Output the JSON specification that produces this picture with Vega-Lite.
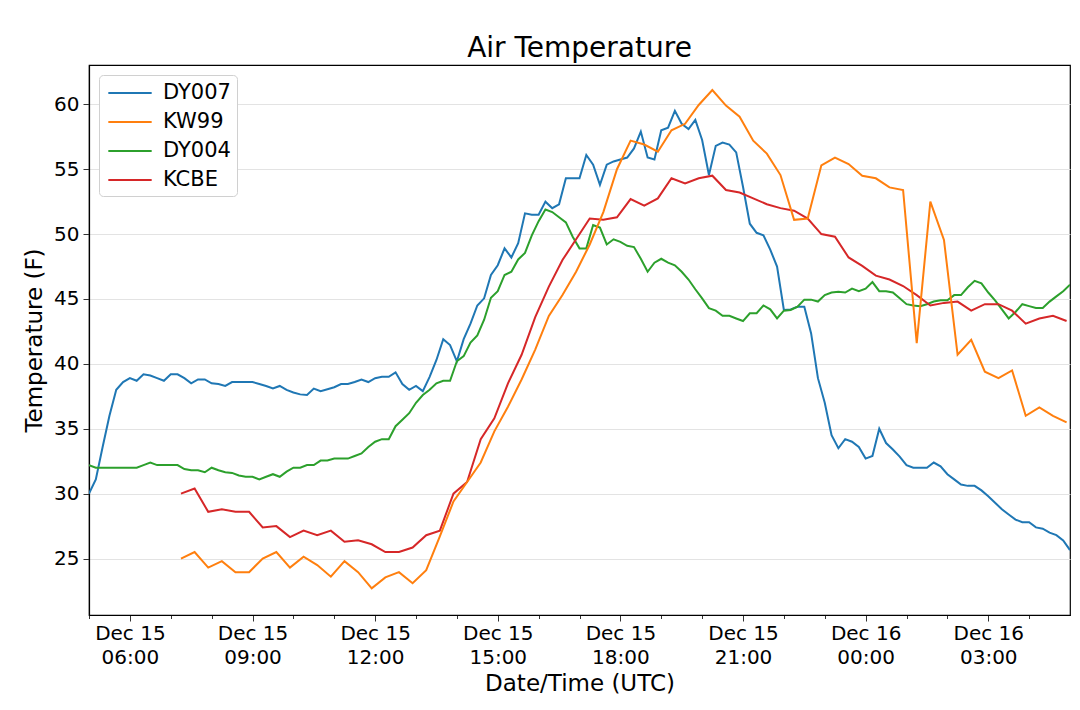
{
  "$schema": "https://vega.github.io/schema/vega-lite/v6.json",
  "description": "Air temperature at four stations, Dec 15-16",
  "width": 981,
  "height": 550,
  "autosize": {"type": "none"},
  "padding": {"left": 89, "top": 65, "right": 10, "bottom": 95},
  "background": "white",
  "config": {
    "font": "DejaVu Sans",
    "view": {"stroke": "black", "strokeWidth": 1.2},
    "axis": {"labelColor": "black", "titleColor": "black", "titleFontWeight": "normal"}
  },
  "title": {"text": "Air Temperature", "fontSize": 28, "fontWeight": "normal", "color": "black", "anchor": "middle", "offset": 2},
  "data": {
    "values": [
      {"station": "DY007", "time": "2017-12-15T05:00:00Z", "temp": 30.0},
      {"station": "DY007", "time": "2017-12-15T05:10:00Z", "temp": 31.1},
      {"station": "DY007", "time": "2017-12-15T05:20:00Z", "temp": 33.6},
      {"station": "DY007", "time": "2017-12-15T05:30:00Z", "temp": 36.0},
      {"station": "DY007", "time": "2017-12-15T05:40:00Z", "temp": 38.0},
      {"station": "DY007", "time": "2017-12-15T05:50:00Z", "temp": 38.6},
      {"station": "DY007", "time": "2017-12-15T06:00:00Z", "temp": 38.9},
      {"station": "DY007", "time": "2017-12-15T06:10:00Z", "temp": 38.7},
      {"station": "DY007", "time": "2017-12-15T06:20:00Z", "temp": 39.2},
      {"station": "DY007", "time": "2017-12-15T06:30:00Z", "temp": 39.1},
      {"station": "DY007", "time": "2017-12-15T06:40:00Z", "temp": 38.9},
      {"station": "DY007", "time": "2017-12-15T06:50:00Z", "temp": 38.7},
      {"station": "DY007", "time": "2017-12-15T07:00:00Z", "temp": 39.2},
      {"station": "DY007", "time": "2017-12-15T07:10:00Z", "temp": 39.2},
      {"station": "DY007", "time": "2017-12-15T07:20:00Z", "temp": 38.9},
      {"station": "DY007", "time": "2017-12-15T07:30:00Z", "temp": 38.5},
      {"station": "DY007", "time": "2017-12-15T07:40:00Z", "temp": 38.8},
      {"station": "DY007", "time": "2017-12-15T07:50:00Z", "temp": 38.8},
      {"station": "DY007", "time": "2017-12-15T08:00:00Z", "temp": 38.5},
      {"station": "DY007", "time": "2017-12-15T08:10:00Z", "temp": 38.45},
      {"station": "DY007", "time": "2017-12-15T08:20:00Z", "temp": 38.3},
      {"station": "DY007", "time": "2017-12-15T08:30:00Z", "temp": 38.6},
      {"station": "DY007", "time": "2017-12-15T08:40:00Z", "temp": 38.6},
      {"station": "DY007", "time": "2017-12-15T08:50:00Z", "temp": 38.6},
      {"station": "DY007", "time": "2017-12-15T09:00:00Z", "temp": 38.6},
      {"station": "DY007", "time": "2017-12-15T09:10:00Z", "temp": 38.45},
      {"station": "DY007", "time": "2017-12-15T09:20:00Z", "temp": 38.3},
      {"station": "DY007", "time": "2017-12-15T09:30:00Z", "temp": 38.1},
      {"station": "DY007", "time": "2017-12-15T09:40:00Z", "temp": 38.3},
      {"station": "DY007", "time": "2017-12-15T09:50:00Z", "temp": 38.0},
      {"station": "DY007", "time": "2017-12-15T10:00:00Z", "temp": 37.8},
      {"station": "DY007", "time": "2017-12-15T10:10:00Z", "temp": 37.65},
      {"station": "DY007", "time": "2017-12-15T10:20:00Z", "temp": 37.6},
      {"station": "DY007", "time": "2017-12-15T10:30:00Z", "temp": 38.1},
      {"station": "DY007", "time": "2017-12-15T10:40:00Z", "temp": 37.9},
      {"station": "DY007", "time": "2017-12-15T10:50:00Z", "temp": 38.05},
      {"station": "DY007", "time": "2017-12-15T11:00:00Z", "temp": 38.2},
      {"station": "DY007", "time": "2017-12-15T11:10:00Z", "temp": 38.45},
      {"station": "DY007", "time": "2017-12-15T11:20:00Z", "temp": 38.45},
      {"station": "DY007", "time": "2017-12-15T11:30:00Z", "temp": 38.6},
      {"station": "DY007", "time": "2017-12-15T11:40:00Z", "temp": 38.8},
      {"station": "DY007", "time": "2017-12-15T11:50:00Z", "temp": 38.6},
      {"station": "DY007", "time": "2017-12-15T12:00:00Z", "temp": 38.9},
      {"station": "DY007", "time": "2017-12-15T12:10:00Z", "temp": 39.0},
      {"station": "DY007", "time": "2017-12-15T12:20:00Z", "temp": 39.0},
      {"station": "DY007", "time": "2017-12-15T12:30:00Z", "temp": 39.35},
      {"station": "DY007", "time": "2017-12-15T12:40:00Z", "temp": 38.45},
      {"station": "DY007", "time": "2017-12-15T12:50:00Z", "temp": 38.0},
      {"station": "DY007", "time": "2017-12-15T13:00:00Z", "temp": 38.3},
      {"station": "DY007", "time": "2017-12-15T13:10:00Z", "temp": 37.9},
      {"station": "DY007", "time": "2017-12-15T13:20:00Z", "temp": 39.0},
      {"station": "DY007", "time": "2017-12-15T13:30:00Z", "temp": 40.3},
      {"station": "DY007", "time": "2017-12-15T13:40:00Z", "temp": 41.9},
      {"station": "DY007", "time": "2017-12-15T13:50:00Z", "temp": 41.45},
      {"station": "DY007", "time": "2017-12-15T14:00:00Z", "temp": 40.2},
      {"station": "DY007", "time": "2017-12-15T14:10:00Z", "temp": 41.9},
      {"station": "DY007", "time": "2017-12-15T14:20:00Z", "temp": 43.1},
      {"station": "DY007", "time": "2017-12-15T14:30:00Z", "temp": 44.5},
      {"station": "DY007", "time": "2017-12-15T14:40:00Z", "temp": 45.05},
      {"station": "DY007", "time": "2017-12-15T14:50:00Z", "temp": 46.85},
      {"station": "DY007", "time": "2017-12-15T15:00:00Z", "temp": 47.6},
      {"station": "DY007", "time": "2017-12-15T15:10:00Z", "temp": 48.9},
      {"station": "DY007", "time": "2017-12-15T15:20:00Z", "temp": 48.2},
      {"station": "DY007", "time": "2017-12-15T15:30:00Z", "temp": 49.3},
      {"station": "DY007", "time": "2017-12-15T15:40:00Z", "temp": 51.6},
      {"station": "DY007", "time": "2017-12-15T15:50:00Z", "temp": 51.5},
      {"station": "DY007", "time": "2017-12-15T16:00:00Z", "temp": 51.5},
      {"station": "DY007", "time": "2017-12-15T16:10:00Z", "temp": 52.5},
      {"station": "DY007", "time": "2017-12-15T16:20:00Z", "temp": 52.0},
      {"station": "DY007", "time": "2017-12-15T16:30:00Z", "temp": 52.3},
      {"station": "DY007", "time": "2017-12-15T16:40:00Z", "temp": 54.3},
      {"station": "DY007", "time": "2017-12-15T16:50:00Z", "temp": 54.3},
      {"station": "DY007", "time": "2017-12-15T17:00:00Z", "temp": 54.3},
      {"station": "DY007", "time": "2017-12-15T17:10:00Z", "temp": 56.1},
      {"station": "DY007", "time": "2017-12-15T17:20:00Z", "temp": 55.35},
      {"station": "DY007", "time": "2017-12-15T17:30:00Z", "temp": 53.8},
      {"station": "DY007", "time": "2017-12-15T17:40:00Z", "temp": 55.35},
      {"station": "DY007", "time": "2017-12-15T17:50:00Z", "temp": 55.6},
      {"station": "DY007", "time": "2017-12-15T18:00:00Z", "temp": 55.75},
      {"station": "DY007", "time": "2017-12-15T18:10:00Z", "temp": 55.9},
      {"station": "DY007", "time": "2017-12-15T18:20:00Z", "temp": 56.6},
      {"station": "DY007", "time": "2017-12-15T18:30:00Z", "temp": 57.9},
      {"station": "DY007", "time": "2017-12-15T18:40:00Z", "temp": 55.9},
      {"station": "DY007", "time": "2017-12-15T18:50:00Z", "temp": 55.75},
      {"station": "DY007", "time": "2017-12-15T19:00:00Z", "temp": 58.0},
      {"station": "DY007", "time": "2017-12-15T19:10:00Z", "temp": 58.2},
      {"station": "DY007", "time": "2017-12-15T19:20:00Z", "temp": 59.5},
      {"station": "DY007", "time": "2017-12-15T19:30:00Z", "temp": 58.5},
      {"station": "DY007", "time": "2017-12-15T19:40:00Z", "temp": 58.1},
      {"station": "DY007", "time": "2017-12-15T19:50:00Z", "temp": 58.8},
      {"station": "DY007", "time": "2017-12-15T20:00:00Z", "temp": 57.25},
      {"station": "DY007", "time": "2017-12-15T20:10:00Z", "temp": 54.55},
      {"station": "DY007", "time": "2017-12-15T20:20:00Z", "temp": 56.8},
      {"station": "DY007", "time": "2017-12-15T20:30:00Z", "temp": 57.05},
      {"station": "DY007", "time": "2017-12-15T20:40:00Z", "temp": 56.9},
      {"station": "DY007", "time": "2017-12-15T20:50:00Z", "temp": 56.3},
      {"station": "DY007", "time": "2017-12-15T21:00:00Z", "temp": 53.65},
      {"station": "DY007", "time": "2017-12-15T21:10:00Z", "temp": 50.8},
      {"station": "DY007", "time": "2017-12-15T21:20:00Z", "temp": 50.1},
      {"station": "DY007", "time": "2017-12-15T21:30:00Z", "temp": 49.9},
      {"station": "DY007", "time": "2017-12-15T21:40:00Z", "temp": 48.8},
      {"station": "DY007", "time": "2017-12-15T21:50:00Z", "temp": 47.5},
      {"station": "DY007", "time": "2017-12-15T22:00:00Z", "temp": 44.15},
      {"station": "DY007", "time": "2017-12-15T22:10:00Z", "temp": 44.2},
      {"station": "DY007", "time": "2017-12-15T22:20:00Z", "temp": 44.4},
      {"station": "DY007", "time": "2017-12-15T22:30:00Z", "temp": 44.4},
      {"station": "DY007", "time": "2017-12-15T22:40:00Z", "temp": 42.35},
      {"station": "DY007", "time": "2017-12-15T22:50:00Z", "temp": 38.9},
      {"station": "DY007", "time": "2017-12-15T23:00:00Z", "temp": 37.0},
      {"station": "DY007", "time": "2017-12-15T23:10:00Z", "temp": 34.5},
      {"station": "DY007", "time": "2017-12-15T23:20:00Z", "temp": 33.5},
      {"station": "DY007", "time": "2017-12-15T23:30:00Z", "temp": 34.2},
      {"station": "DY007", "time": "2017-12-15T23:40:00Z", "temp": 34.0},
      {"station": "DY007", "time": "2017-12-15T23:50:00Z", "temp": 33.6},
      {"station": "DY007", "time": "2017-12-16T00:00:00Z", "temp": 32.7},
      {"station": "DY007", "time": "2017-12-16T00:10:00Z", "temp": 32.9},
      {"station": "DY007", "time": "2017-12-16T00:20:00Z", "temp": 35.0},
      {"station": "DY007", "time": "2017-12-16T00:30:00Z", "temp": 33.9},
      {"station": "DY007", "time": "2017-12-16T00:40:00Z", "temp": 33.4},
      {"station": "DY007", "time": "2017-12-16T00:50:00Z", "temp": 32.85},
      {"station": "DY007", "time": "2017-12-16T01:00:00Z", "temp": 32.2},
      {"station": "DY007", "time": "2017-12-16T01:10:00Z", "temp": 32.0},
      {"station": "DY007", "time": "2017-12-16T01:20:00Z", "temp": 32.0},
      {"station": "DY007", "time": "2017-12-16T01:30:00Z", "temp": 32.0},
      {"station": "DY007", "time": "2017-12-16T01:40:00Z", "temp": 32.4},
      {"station": "DY007", "time": "2017-12-16T01:50:00Z", "temp": 32.1},
      {"station": "DY007", "time": "2017-12-16T02:00:00Z", "temp": 31.5},
      {"station": "DY007", "time": "2017-12-16T02:10:00Z", "temp": 31.1},
      {"station": "DY007", "time": "2017-12-16T02:20:00Z", "temp": 30.7},
      {"station": "DY007", "time": "2017-12-16T02:30:00Z", "temp": 30.6},
      {"station": "DY007", "time": "2017-12-16T02:40:00Z", "temp": 30.6},
      {"station": "DY007", "time": "2017-12-16T02:50:00Z", "temp": 30.25},
      {"station": "DY007", "time": "2017-12-16T03:00:00Z", "temp": 29.8},
      {"station": "DY007", "time": "2017-12-16T03:10:00Z", "temp": 29.3},
      {"station": "DY007", "time": "2017-12-16T03:20:00Z", "temp": 28.8},
      {"station": "DY007", "time": "2017-12-16T03:30:00Z", "temp": 28.4},
      {"station": "DY007", "time": "2017-12-16T03:40:00Z", "temp": 28.0},
      {"station": "DY007", "time": "2017-12-16T03:50:00Z", "temp": 27.8},
      {"station": "DY007", "time": "2017-12-16T04:00:00Z", "temp": 27.8},
      {"station": "DY007", "time": "2017-12-16T04:10:00Z", "temp": 27.4},
      {"station": "DY007", "time": "2017-12-16T04:20:00Z", "temp": 27.3},
      {"station": "DY007", "time": "2017-12-16T04:30:00Z", "temp": 27.0},
      {"station": "DY007", "time": "2017-12-16T04:40:00Z", "temp": 26.8},
      {"station": "DY007", "time": "2017-12-16T04:50:00Z", "temp": 26.4},
      {"station": "DY007", "time": "2017-12-16T05:00:00Z", "temp": 25.65},
      {"station": "DY004", "time": "2017-12-15T05:00:00Z", "temp": 32.2},
      {"station": "DY004", "time": "2017-12-15T05:10:00Z", "temp": 32.0},
      {"station": "DY004", "time": "2017-12-15T05:20:00Z", "temp": 32.0},
      {"station": "DY004", "time": "2017-12-15T05:30:00Z", "temp": 32.0},
      {"station": "DY004", "time": "2017-12-15T05:40:00Z", "temp": 32.0},
      {"station": "DY004", "time": "2017-12-15T05:50:00Z", "temp": 32.0},
      {"station": "DY004", "time": "2017-12-15T06:00:00Z", "temp": 32.0},
      {"station": "DY004", "time": "2017-12-15T06:10:00Z", "temp": 32.0},
      {"station": "DY004", "time": "2017-12-15T06:20:00Z", "temp": 32.2},
      {"station": "DY004", "time": "2017-12-15T06:30:00Z", "temp": 32.4},
      {"station": "DY004", "time": "2017-12-15T06:40:00Z", "temp": 32.2},
      {"station": "DY004", "time": "2017-12-15T06:50:00Z", "temp": 32.2},
      {"station": "DY004", "time": "2017-12-15T07:00:00Z", "temp": 32.2},
      {"station": "DY004", "time": "2017-12-15T07:10:00Z", "temp": 32.2},
      {"station": "DY004", "time": "2017-12-15T07:20:00Z", "temp": 31.9},
      {"station": "DY004", "time": "2017-12-15T07:30:00Z", "temp": 31.8},
      {"station": "DY004", "time": "2017-12-15T07:40:00Z", "temp": 31.8},
      {"station": "DY004", "time": "2017-12-15T07:50:00Z", "temp": 31.65},
      {"station": "DY004", "time": "2017-12-15T08:00:00Z", "temp": 32.0},
      {"station": "DY004", "time": "2017-12-15T08:10:00Z", "temp": 31.8},
      {"station": "DY004", "time": "2017-12-15T08:20:00Z", "temp": 31.65},
      {"station": "DY004", "time": "2017-12-15T08:30:00Z", "temp": 31.6},
      {"station": "DY004", "time": "2017-12-15T08:40:00Z", "temp": 31.4},
      {"station": "DY004", "time": "2017-12-15T08:50:00Z", "temp": 31.3},
      {"station": "DY004", "time": "2017-12-15T09:00:00Z", "temp": 31.3},
      {"station": "DY004", "time": "2017-12-15T09:10:00Z", "temp": 31.1},
      {"station": "DY004", "time": "2017-12-15T09:20:00Z", "temp": 31.3},
      {"station": "DY004", "time": "2017-12-15T09:30:00Z", "temp": 31.5},
      {"station": "DY004", "time": "2017-12-15T09:40:00Z", "temp": 31.3},
      {"station": "DY004", "time": "2017-12-15T09:50:00Z", "temp": 31.7},
      {"station": "DY004", "time": "2017-12-15T10:00:00Z", "temp": 32.0},
      {"station": "DY004", "time": "2017-12-15T10:10:00Z", "temp": 32.0},
      {"station": "DY004", "time": "2017-12-15T10:20:00Z", "temp": 32.2},
      {"station": "DY004", "time": "2017-12-15T10:30:00Z", "temp": 32.2},
      {"station": "DY004", "time": "2017-12-15T10:40:00Z", "temp": 32.55},
      {"station": "DY004", "time": "2017-12-15T10:50:00Z", "temp": 32.55},
      {"station": "DY004", "time": "2017-12-15T11:00:00Z", "temp": 32.7},
      {"station": "DY004", "time": "2017-12-15T11:10:00Z", "temp": 32.7},
      {"station": "DY004", "time": "2017-12-15T11:20:00Z", "temp": 32.7},
      {"station": "DY004", "time": "2017-12-15T11:30:00Z", "temp": 32.9},
      {"station": "DY004", "time": "2017-12-15T11:40:00Z", "temp": 33.1},
      {"station": "DY004", "time": "2017-12-15T11:50:00Z", "temp": 33.6},
      {"station": "DY004", "time": "2017-12-15T12:00:00Z", "temp": 34.0},
      {"station": "DY004", "time": "2017-12-15T12:10:00Z", "temp": 34.2},
      {"station": "DY004", "time": "2017-12-15T12:20:00Z", "temp": 34.2},
      {"station": "DY004", "time": "2017-12-15T12:30:00Z", "temp": 35.2},
      {"station": "DY004", "time": "2017-12-15T12:40:00Z", "temp": 35.7},
      {"station": "DY004", "time": "2017-12-15T12:50:00Z", "temp": 36.2},
      {"station": "DY004", "time": "2017-12-15T13:00:00Z", "temp": 37.0},
      {"station": "DY004", "time": "2017-12-15T13:10:00Z", "temp": 37.6},
      {"station": "DY004", "time": "2017-12-15T13:20:00Z", "temp": 38.0},
      {"station": "DY004", "time": "2017-12-15T13:30:00Z", "temp": 38.5},
      {"station": "DY004", "time": "2017-12-15T13:40:00Z", "temp": 38.7},
      {"station": "DY004", "time": "2017-12-15T13:50:00Z", "temp": 38.7},
      {"station": "DY004", "time": "2017-12-15T14:00:00Z", "temp": 40.2},
      {"station": "DY004", "time": "2017-12-15T14:10:00Z", "temp": 40.6},
      {"station": "DY004", "time": "2017-12-15T14:20:00Z", "temp": 41.65},
      {"station": "DY004", "time": "2017-12-15T14:30:00Z", "temp": 42.2},
      {"station": "DY004", "time": "2017-12-15T14:40:00Z", "temp": 43.4},
      {"station": "DY004", "time": "2017-12-15T14:50:00Z", "temp": 45.1},
      {"station": "DY004", "time": "2017-12-15T15:00:00Z", "temp": 45.6},
      {"station": "DY004", "time": "2017-12-15T15:10:00Z", "temp": 46.85},
      {"station": "DY004", "time": "2017-12-15T15:20:00Z", "temp": 47.1},
      {"station": "DY004", "time": "2017-12-15T15:30:00Z", "temp": 48.05},
      {"station": "DY004", "time": "2017-12-15T15:40:00Z", "temp": 48.55},
      {"station": "DY004", "time": "2017-12-15T15:50:00Z", "temp": 49.9},
      {"station": "DY004", "time": "2017-12-15T16:00:00Z", "temp": 51.0},
      {"station": "DY004", "time": "2017-12-15T16:10:00Z", "temp": 51.9},
      {"station": "DY004", "time": "2017-12-15T16:20:00Z", "temp": 51.7},
      {"station": "DY004", "time": "2017-12-15T16:30:00Z", "temp": 51.3},
      {"station": "DY004", "time": "2017-12-15T16:40:00Z", "temp": 50.9},
      {"station": "DY004", "time": "2017-12-15T16:50:00Z", "temp": 49.8},
      {"station": "DY004", "time": "2017-12-15T17:00:00Z", "temp": 48.9},
      {"station": "DY004", "time": "2017-12-15T17:10:00Z", "temp": 48.9},
      {"station": "DY004", "time": "2017-12-15T17:20:00Z", "temp": 50.7},
      {"station": "DY004", "time": "2017-12-15T17:30:00Z", "temp": 50.5},
      {"station": "DY004", "time": "2017-12-15T17:40:00Z", "temp": 49.2},
      {"station": "DY004", "time": "2017-12-15T17:50:00Z", "temp": 49.6},
      {"station": "DY004", "time": "2017-12-15T18:00:00Z", "temp": 49.4},
      {"station": "DY004", "time": "2017-12-15T18:10:00Z", "temp": 49.1},
      {"station": "DY004", "time": "2017-12-15T18:20:00Z", "temp": 49.0},
      {"station": "DY004", "time": "2017-12-15T18:30:00Z", "temp": 48.1},
      {"station": "DY004", "time": "2017-12-15T18:40:00Z", "temp": 47.1},
      {"station": "DY004", "time": "2017-12-15T18:50:00Z", "temp": 47.8},
      {"station": "DY004", "time": "2017-12-15T19:00:00Z", "temp": 48.1},
      {"station": "DY004", "time": "2017-12-15T19:10:00Z", "temp": 47.8},
      {"station": "DY004", "time": "2017-12-15T19:20:00Z", "temp": 47.6},
      {"station": "DY004", "time": "2017-12-15T19:30:00Z", "temp": 47.1},
      {"station": "DY004", "time": "2017-12-15T19:40:00Z", "temp": 46.5},
      {"station": "DY004", "time": "2017-12-15T19:50:00Z", "temp": 45.75},
      {"station": "DY004", "time": "2017-12-15T20:00:00Z", "temp": 45.05},
      {"station": "DY004", "time": "2017-12-15T20:10:00Z", "temp": 44.3},
      {"station": "DY004", "time": "2017-12-15T20:20:00Z", "temp": 44.1},
      {"station": "DY004", "time": "2017-12-15T20:30:00Z", "temp": 43.7},
      {"station": "DY004", "time": "2017-12-15T20:40:00Z", "temp": 43.7},
      {"station": "DY004", "time": "2017-12-15T20:50:00Z", "temp": 43.5},
      {"station": "DY004", "time": "2017-12-15T21:00:00Z", "temp": 43.3},
      {"station": "DY004", "time": "2017-12-15T21:10:00Z", "temp": 43.9},
      {"station": "DY004", "time": "2017-12-15T21:20:00Z", "temp": 43.9},
      {"station": "DY004", "time": "2017-12-15T21:30:00Z", "temp": 44.5},
      {"station": "DY004", "time": "2017-12-15T21:40:00Z", "temp": 44.2},
      {"station": "DY004", "time": "2017-12-15T21:50:00Z", "temp": 43.5},
      {"station": "DY004", "time": "2017-12-15T22:00:00Z", "temp": 44.1},
      {"station": "DY004", "time": "2017-12-15T22:10:00Z", "temp": 44.15},
      {"station": "DY004", "time": "2017-12-15T22:20:00Z", "temp": 44.4},
      {"station": "DY004", "time": "2017-12-15T22:30:00Z", "temp": 44.95},
      {"station": "DY004", "time": "2017-12-15T22:40:00Z", "temp": 44.95},
      {"station": "DY004", "time": "2017-12-15T22:50:00Z", "temp": 44.8},
      {"station": "DY004", "time": "2017-12-15T23:00:00Z", "temp": 45.3},
      {"station": "DY004", "time": "2017-12-15T23:10:00Z", "temp": 45.5},
      {"station": "DY004", "time": "2017-12-15T23:20:00Z", "temp": 45.55},
      {"station": "DY004", "time": "2017-12-15T23:30:00Z", "temp": 45.5},
      {"station": "DY004", "time": "2017-12-15T23:40:00Z", "temp": 45.8},
      {"station": "DY004", "time": "2017-12-15T23:50:00Z", "temp": 45.6},
      {"station": "DY004", "time": "2017-12-16T00:00:00Z", "temp": 45.8},
      {"station": "DY004", "time": "2017-12-16T00:10:00Z", "temp": 46.3},
      {"station": "DY004", "time": "2017-12-16T00:20:00Z", "temp": 45.6},
      {"station": "DY004", "time": "2017-12-16T00:30:00Z", "temp": 45.6},
      {"station": "DY004", "time": "2017-12-16T00:40:00Z", "temp": 45.5},
      {"station": "DY004", "time": "2017-12-16T00:50:00Z", "temp": 45.05},
      {"station": "DY004", "time": "2017-12-16T01:00:00Z", "temp": 44.6},
      {"station": "DY004", "time": "2017-12-16T01:10:00Z", "temp": 44.5},
      {"station": "DY004", "time": "2017-12-16T01:20:00Z", "temp": 44.45},
      {"station": "DY004", "time": "2017-12-16T01:30:00Z", "temp": 44.6},
      {"station": "DY004", "time": "2017-12-16T01:40:00Z", "temp": 44.8},
      {"station": "DY004", "time": "2017-12-16T01:50:00Z", "temp": 44.9},
      {"station": "DY004", "time": "2017-12-16T02:00:00Z", "temp": 44.9},
      {"station": "DY004", "time": "2017-12-16T02:10:00Z", "temp": 45.3},
      {"station": "DY004", "time": "2017-12-16T02:20:00Z", "temp": 45.3},
      {"station": "DY004", "time": "2017-12-16T02:30:00Z", "temp": 45.9},
      {"station": "DY004", "time": "2017-12-16T02:40:00Z", "temp": 46.4},
      {"station": "DY004", "time": "2017-12-16T02:50:00Z", "temp": 46.2},
      {"station": "DY004", "time": "2017-12-16T03:00:00Z", "temp": 45.5},
      {"station": "DY004", "time": "2017-12-16T03:10:00Z", "temp": 44.9},
      {"station": "DY004", "time": "2017-12-16T03:20:00Z", "temp": 44.2},
      {"station": "DY004", "time": "2017-12-16T03:30:00Z", "temp": 43.5},
      {"station": "DY004", "time": "2017-12-16T03:40:00Z", "temp": 44.0},
      {"station": "DY004", "time": "2017-12-16T03:50:00Z", "temp": 44.6},
      {"station": "DY004", "time": "2017-12-16T04:00:00Z", "temp": 44.45},
      {"station": "DY004", "time": "2017-12-16T04:10:00Z", "temp": 44.3},
      {"station": "DY004", "time": "2017-12-16T04:20:00Z", "temp": 44.3},
      {"station": "DY004", "time": "2017-12-16T04:30:00Z", "temp": 44.8},
      {"station": "DY004", "time": "2017-12-16T04:40:00Z", "temp": 45.2},
      {"station": "DY004", "time": "2017-12-16T04:50:00Z", "temp": 45.6},
      {"station": "DY004", "time": "2017-12-16T05:00:00Z", "temp": 46.1},
      {"station": "KCBE", "time": "2017-12-15T07:15:00Z", "temp": 30.0},
      {"station": "KCBE", "time": "2017-12-15T07:35:00Z", "temp": 30.4},
      {"station": "KCBE", "time": "2017-12-15T07:55:00Z", "temp": 28.6},
      {"station": "KCBE", "time": "2017-12-15T08:15:00Z", "temp": 28.8},
      {"station": "KCBE", "time": "2017-12-15T08:35:00Z", "temp": 28.6},
      {"station": "KCBE", "time": "2017-12-15T08:55:00Z", "temp": 28.6},
      {"station": "KCBE", "time": "2017-12-15T09:15:00Z", "temp": 27.4},
      {"station": "KCBE", "time": "2017-12-15T09:35:00Z", "temp": 27.5},
      {"station": "KCBE", "time": "2017-12-15T09:55:00Z", "temp": 26.65},
      {"station": "KCBE", "time": "2017-12-15T10:15:00Z", "temp": 27.15},
      {"station": "KCBE", "time": "2017-12-15T10:35:00Z", "temp": 26.8},
      {"station": "KCBE", "time": "2017-12-15T10:55:00Z", "temp": 27.15},
      {"station": "KCBE", "time": "2017-12-15T11:15:00Z", "temp": 26.3},
      {"station": "KCBE", "time": "2017-12-15T11:35:00Z", "temp": 26.4},
      {"station": "KCBE", "time": "2017-12-15T11:55:00Z", "temp": 26.1},
      {"station": "KCBE", "time": "2017-12-15T12:15:00Z", "temp": 25.5},
      {"station": "KCBE", "time": "2017-12-15T12:35:00Z", "temp": 25.5},
      {"station": "KCBE", "time": "2017-12-15T12:55:00Z", "temp": 25.85},
      {"station": "KCBE", "time": "2017-12-15T13:15:00Z", "temp": 26.8},
      {"station": "KCBE", "time": "2017-12-15T13:35:00Z", "temp": 27.15},
      {"station": "KCBE", "time": "2017-12-15T13:55:00Z", "temp": 30.0},
      {"station": "KCBE", "time": "2017-12-15T14:15:00Z", "temp": 30.9},
      {"station": "KCBE", "time": "2017-12-15T14:35:00Z", "temp": 34.2},
      {"station": "KCBE", "time": "2017-12-15T14:55:00Z", "temp": 35.8},
      {"station": "KCBE", "time": "2017-12-15T15:15:00Z", "temp": 38.5},
      {"station": "KCBE", "time": "2017-12-15T15:35:00Z", "temp": 40.7},
      {"station": "KCBE", "time": "2017-12-15T15:55:00Z", "temp": 43.6},
      {"station": "KCBE", "time": "2017-12-15T16:15:00Z", "temp": 45.95},
      {"station": "KCBE", "time": "2017-12-15T16:35:00Z", "temp": 48.0},
      {"station": "KCBE", "time": "2017-12-15T16:55:00Z", "temp": 49.6},
      {"station": "KCBE", "time": "2017-12-15T17:15:00Z", "temp": 51.2},
      {"station": "KCBE", "time": "2017-12-15T17:35:00Z", "temp": 51.1},
      {"station": "KCBE", "time": "2017-12-15T17:55:00Z", "temp": 51.3},
      {"station": "KCBE", "time": "2017-12-15T18:15:00Z", "temp": 52.7},
      {"station": "KCBE", "time": "2017-12-15T18:35:00Z", "temp": 52.2},
      {"station": "KCBE", "time": "2017-12-15T18:55:00Z", "temp": 52.75},
      {"station": "KCBE", "time": "2017-12-15T19:15:00Z", "temp": 54.3},
      {"station": "KCBE", "time": "2017-12-15T19:35:00Z", "temp": 53.9},
      {"station": "KCBE", "time": "2017-12-15T19:55:00Z", "temp": 54.3},
      {"station": "KCBE", "time": "2017-12-15T20:15:00Z", "temp": 54.5},
      {"station": "KCBE", "time": "2017-12-15T20:35:00Z", "temp": 53.4},
      {"station": "KCBE", "time": "2017-12-15T20:55:00Z", "temp": 53.2},
      {"station": "KCBE", "time": "2017-12-15T21:15:00Z", "temp": 52.75},
      {"station": "KCBE", "time": "2017-12-15T21:35:00Z", "temp": 52.3},
      {"station": "KCBE", "time": "2017-12-15T21:55:00Z", "temp": 52.0},
      {"station": "KCBE", "time": "2017-12-15T22:15:00Z", "temp": 51.8},
      {"station": "KCBE", "time": "2017-12-15T22:35:00Z", "temp": 51.2},
      {"station": "KCBE", "time": "2017-12-15T22:55:00Z", "temp": 50.0},
      {"station": "KCBE", "time": "2017-12-15T23:15:00Z", "temp": 49.8},
      {"station": "KCBE", "time": "2017-12-15T23:35:00Z", "temp": 48.2},
      {"station": "KCBE", "time": "2017-12-15T23:55:00Z", "temp": 47.55},
      {"station": "KCBE", "time": "2017-12-16T00:15:00Z", "temp": 46.8},
      {"station": "KCBE", "time": "2017-12-16T00:35:00Z", "temp": 46.5},
      {"station": "KCBE", "time": "2017-12-16T00:55:00Z", "temp": 46.0},
      {"station": "KCBE", "time": "2017-12-16T01:15:00Z", "temp": 45.3},
      {"station": "KCBE", "time": "2017-12-16T01:35:00Z", "temp": 44.5},
      {"station": "KCBE", "time": "2017-12-16T01:55:00Z", "temp": 44.7},
      {"station": "KCBE", "time": "2017-12-16T02:15:00Z", "temp": 44.8},
      {"station": "KCBE", "time": "2017-12-16T02:35:00Z", "temp": 44.1},
      {"station": "KCBE", "time": "2017-12-16T02:55:00Z", "temp": 44.6},
      {"station": "KCBE", "time": "2017-12-16T03:15:00Z", "temp": 44.6},
      {"station": "KCBE", "time": "2017-12-16T03:35:00Z", "temp": 44.1},
      {"station": "KCBE", "time": "2017-12-16T03:55:00Z", "temp": 43.1},
      {"station": "KCBE", "time": "2017-12-16T04:15:00Z", "temp": 43.5},
      {"station": "KCBE", "time": "2017-12-16T04:35:00Z", "temp": 43.7},
      {"station": "KCBE", "time": "2017-12-16T04:55:00Z", "temp": 43.3},
      {"station": "KW99", "time": "2017-12-15T07:15:00Z", "temp": 25.0},
      {"station": "KW99", "time": "2017-12-15T07:35:00Z", "temp": 25.5},
      {"station": "KW99", "time": "2017-12-15T07:55:00Z", "temp": 24.3},
      {"station": "KW99", "time": "2017-12-15T08:15:00Z", "temp": 24.8},
      {"station": "KW99", "time": "2017-12-15T08:35:00Z", "temp": 23.95},
      {"station": "KW99", "time": "2017-12-15T08:55:00Z", "temp": 23.95},
      {"station": "KW99", "time": "2017-12-15T09:15:00Z", "temp": 25.0},
      {"station": "KW99", "time": "2017-12-15T09:35:00Z", "temp": 25.5},
      {"station": "KW99", "time": "2017-12-15T09:55:00Z", "temp": 24.3},
      {"station": "KW99", "time": "2017-12-15T10:15:00Z", "temp": 25.15},
      {"station": "KW99", "time": "2017-12-15T10:35:00Z", "temp": 24.5},
      {"station": "KW99", "time": "2017-12-15T10:55:00Z", "temp": 23.6},
      {"station": "KW99", "time": "2017-12-15T11:15:00Z", "temp": 24.8},
      {"station": "KW99", "time": "2017-12-15T11:35:00Z", "temp": 23.95},
      {"station": "KW99", "time": "2017-12-15T11:55:00Z", "temp": 22.7},
      {"station": "KW99", "time": "2017-12-15T12:15:00Z", "temp": 23.55},
      {"station": "KW99", "time": "2017-12-15T12:35:00Z", "temp": 23.95},
      {"station": "KW99", "time": "2017-12-15T12:55:00Z", "temp": 23.1},
      {"station": "KW99", "time": "2017-12-15T13:15:00Z", "temp": 24.1},
      {"station": "KW99", "time": "2017-12-15T13:35:00Z", "temp": 26.7},
      {"station": "KW99", "time": "2017-12-15T13:55:00Z", "temp": 29.4},
      {"station": "KW99", "time": "2017-12-15T14:15:00Z", "temp": 30.9},
      {"station": "KW99", "time": "2017-12-15T14:35:00Z", "temp": 32.4},
      {"station": "KW99", "time": "2017-12-15T14:55:00Z", "temp": 34.8},
      {"station": "KW99", "time": "2017-12-15T15:15:00Z", "temp": 36.7},
      {"station": "KW99", "time": "2017-12-15T15:35:00Z", "temp": 38.8},
      {"station": "KW99", "time": "2017-12-15T15:55:00Z", "temp": 41.1},
      {"station": "KW99", "time": "2017-12-15T16:15:00Z", "temp": 43.7},
      {"station": "KW99", "time": "2017-12-15T16:35:00Z", "temp": 45.3},
      {"station": "KW99", "time": "2017-12-15T16:55:00Z", "temp": 47.1},
      {"station": "KW99", "time": "2017-12-15T17:15:00Z", "temp": 49.2},
      {"station": "KW99", "time": "2017-12-15T17:35:00Z", "temp": 51.7},
      {"station": "KW99", "time": "2017-12-15T17:55:00Z", "temp": 55.0},
      {"station": "KW99", "time": "2017-12-15T18:15:00Z", "temp": 57.2},
      {"station": "KW99", "time": "2017-12-15T18:35:00Z", "temp": 56.9},
      {"station": "KW99", "time": "2017-12-15T18:55:00Z", "temp": 56.35},
      {"station": "KW99", "time": "2017-12-15T19:15:00Z", "temp": 58.0},
      {"station": "KW99", "time": "2017-12-15T19:35:00Z", "temp": 58.5},
      {"station": "KW99", "time": "2017-12-15T19:55:00Z", "temp": 59.95},
      {"station": "KW99", "time": "2017-12-15T20:15:00Z", "temp": 61.1},
      {"station": "KW99", "time": "2017-12-15T20:35:00Z", "temp": 59.9},
      {"station": "KW99", "time": "2017-12-15T20:55:00Z", "temp": 59.05},
      {"station": "KW99", "time": "2017-12-15T21:15:00Z", "temp": 57.2},
      {"station": "KW99", "time": "2017-12-15T21:35:00Z", "temp": 56.2},
      {"station": "KW99", "time": "2017-12-15T21:55:00Z", "temp": 54.55},
      {"station": "KW99", "time": "2017-12-15T22:15:00Z", "temp": 51.1},
      {"station": "KW99", "time": "2017-12-15T22:35:00Z", "temp": 51.2},
      {"station": "KW99", "time": "2017-12-15T22:55:00Z", "temp": 55.3},
      {"station": "KW99", "time": "2017-12-15T23:15:00Z", "temp": 55.9},
      {"station": "KW99", "time": "2017-12-15T23:35:00Z", "temp": 55.4},
      {"station": "KW99", "time": "2017-12-15T23:55:00Z", "temp": 54.5},
      {"station": "KW99", "time": "2017-12-16T00:15:00Z", "temp": 54.3},
      {"station": "KW99", "time": "2017-12-16T00:35:00Z", "temp": 53.6},
      {"station": "KW99", "time": "2017-12-16T00:55:00Z", "temp": 53.4},
      {"station": "KW99", "time": "2017-12-16T01:15:00Z", "temp": 41.6},
      {"station": "KW99", "time": "2017-12-16T01:35:00Z", "temp": 52.5},
      {"station": "KW99", "time": "2017-12-16T01:55:00Z", "temp": 49.55},
      {"station": "KW99", "time": "2017-12-16T02:15:00Z", "temp": 40.7},
      {"station": "KW99", "time": "2017-12-16T02:35:00Z", "temp": 41.85},
      {"station": "KW99", "time": "2017-12-16T02:55:00Z", "temp": 39.4},
      {"station": "KW99", "time": "2017-12-16T03:15:00Z", "temp": 38.9},
      {"station": "KW99", "time": "2017-12-16T03:35:00Z", "temp": 39.5},
      {"station": "KW99", "time": "2017-12-16T03:55:00Z", "temp": 36.0},
      {"station": "KW99", "time": "2017-12-16T04:15:00Z", "temp": 36.65},
      {"station": "KW99", "time": "2017-12-16T04:35:00Z", "temp": 36.0},
      {"station": "KW99", "time": "2017-12-16T04:55:00Z", "temp": 35.5}
    ]
  },
  "encoding": {
    "y": {
      "field": "temp",
      "type": "quantitative",
      "scale": {"domain": [20.65, 63.03], "nice": false, "zero": false},
      "axis": {
        "title": "Temperature (F)",
        "titleFontSize": 23,
        "titlePadding": 7,
        "values": [25, 30, 35, 40, 45, 50, 55, 60],
        "labelFontSize": 20,
        "labelPadding": 4,
        "tickSize": 6,
        "gridColor": "#e3e3e3",
        "gridWidth": 1.2,
        "domainColor": "black",
        "domainWidth": 1.2,
        "tickColor": "#333333"
      }
    }
  },
  "layer": [
    {
      "mark": {"type": "line", "strokeOpacity": 0},
      "encoding": {
        "x": {
          "field": "time",
          "type": "temporal",
          "scale": {
            "type": "utc",
            "domain": [
              {"year": 2017, "month": 12, "date": 15, "hours": 5, "utc": true},
              {"year": 2017, "month": 12, "date": 16, "hours": 5, "utc": true}
            ]
          },
          "axis": {
            "orient": "bottom",
            "title": null,
            "labels": false,
            "grid": false,
            "domain": false,
            "tickSize": 3.5,
            "tickColor": "#333333",
            "values": [
              {"year": 2017, "month": 12, "date": 15, "hours": 5, "utc": true},
              {"year": 2017, "month": 12, "date": 15, "hours": 7, "utc": true},
              {"year": 2017, "month": 12, "date": 15, "hours": 8, "utc": true},
              {"year": 2017, "month": 12, "date": 15, "hours": 10, "utc": true},
              {"year": 2017, "month": 12, "date": 15, "hours": 11, "utc": true},
              {"year": 2017, "month": 12, "date": 15, "hours": 13, "utc": true},
              {"year": 2017, "month": 12, "date": 15, "hours": 14, "utc": true},
              {"year": 2017, "month": 12, "date": 15, "hours": 16, "utc": true},
              {"year": 2017, "month": 12, "date": 15, "hours": 17, "utc": true},
              {"year": 2017, "month": 12, "date": 15, "hours": 19, "utc": true},
              {"year": 2017, "month": 12, "date": 15, "hours": 20, "utc": true},
              {"year": 2017, "month": 12, "date": 15, "hours": 22, "utc": true},
              {"year": 2017, "month": 12, "date": 15, "hours": 23, "utc": true},
              {"year": 2017, "month": 12, "date": 16, "hours": 1, "utc": true},
              {"year": 2017, "month": 12, "date": 16, "hours": 2, "utc": true},
              {"year": 2017, "month": 12, "date": 16, "hours": 4, "utc": true}
            ]
          }
        }
      }
    },
    {
      "mark": {"type": "line", "strokeWidth": 2, "clip": true},
      "encoding": {
        "x": {
          "field": "time",
          "type": "temporal",
          "scale": {
            "type": "utc",
            "domain": [
              {"year": 2017, "month": 12, "date": 15, "hours": 5, "utc": true},
              {"year": 2017, "month": 12, "date": 16, "hours": 5, "utc": true}
            ]
          },
          "axis": {
            "orient": "bottom",
            "title": "Date/Time (UTC)",
            "titleFontSize": 23,
            "titlePadding": 5,
            "values": [
              {"year": 2017, "month": 12, "date": 15, "hours": 6, "utc": true},
              {"year": 2017, "month": 12, "date": 15, "hours": 9, "utc": true},
              {"year": 2017, "month": 12, "date": 15, "hours": 12, "utc": true},
              {"year": 2017, "month": 12, "date": 15, "hours": 15, "utc": true},
              {"year": 2017, "month": 12, "date": 15, "hours": 18, "utc": true},
              {"year": 2017, "month": 12, "date": 15, "hours": 21, "utc": true},
              {"year": 2017, "month": 12, "date": 16, "hours": 0, "utc": true},
              {"year": 2017, "month": 12, "date": 16, "hours": 3, "utc": true}
            ],
            "labelExpr": "[utcFormat(datum.value, '%b %d'), utcFormat(datum.value, '%H:%M')]",
            "labelFontSize": 20,
            "labelLineHeight": 24,
            "labelOverlap": false,
            "labelFlush": false,
            "labelPadding": 2,
            "tickSize": 6,
            "gridColor": "#e3e3e3",
            "gridWidth": 1.2,
            "domainColor": "black",
            "domainWidth": 1.2,
            "tickColor": "#333333"
          }
        },
        "color": {
          "field": "station",
          "type": "nominal",
          "scale": {
            "domain": ["DY007", "KW99", "DY004", "KCBE"],
            "range": ["#1f77b4", "#ff7f0e", "#2ca02c", "#d62728"]
          },
          "legend": {
            "title": null,
            "orient": "top-left",
            "offset": 10,
            "labelFontSize": 21,
            "labelColor": "black",
            "labelOffset": 21,
            "symbolType": "M-2,0L2,0",
            "symbolStrokeWidth": 2,
            "symbolSize": 470,
            "symbolOffset": 13,
            "rowPadding": 7,
            "fillColor": "white",
            "strokeColor": "#d0d0d0",
            "cornerRadius": 4,
            "padding": 6
          }
        }
      }
    }
  ],
  "resolve": {"axis": {"x": "independent"}}
}
